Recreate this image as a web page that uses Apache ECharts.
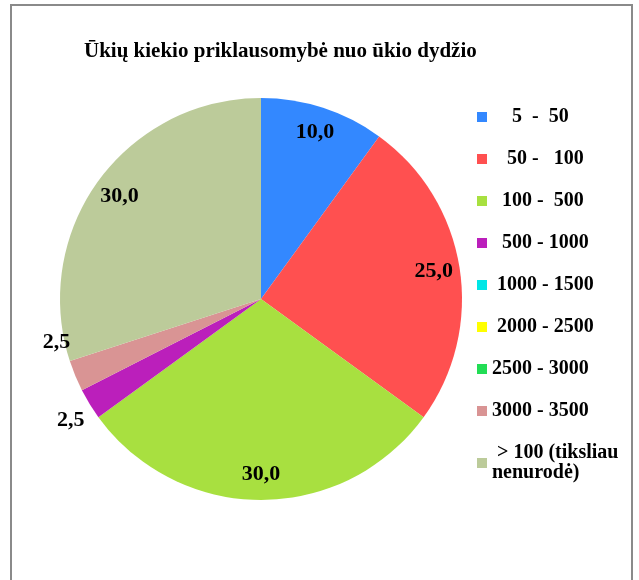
<!DOCTYPE html>
<html>
<head>
<meta charset="utf-8">
<script src="https://cdn.jsdelivr.net/npm/echarts@6/dist/echarts.min.js"></script>
<style>
  html, body { margin: 0; padding: 0; background: #fff; overflow: hidden; }
  #chart { position: absolute; left: 0; top: 0; width: 639px; height: 580px; }
  #frame { position: absolute; left: 10px; top: 4px; width: 619px; height: 620px;
           border: 2px solid #8a8a8a; pointer-events: none; }
</style>
</head>
<body>
<div id="chart"></div>
<div id="frame"></div>
<script>
const titleText = 'Ūkių kiekio priklausomybė nuo ūkio dydžio'

// size classes, as written in the legend (leading spaces keep the original alignment)
const categories = [
  '    5  -  50',
  '   50 -   100',
  '  100 -  500',
  '  500 - 1000',
  ' 1000 - 1500',
  ' 2000 - 2500',
  '2500 - 3000',
  '3000 - 3500',
  ' > 100 (tiksliau\nnenurodė)',
]
const values = [10.0, 25.0, 30.0, 2.5, 0, 0, 0, 2.5, 30.0]
const colors = ['#3388ff', '#ff5050', '#a8e040', '#bb1fbb', '#00e6e6', '#ffff00', '#22dd55', '#d99494', '#bccb9a']

const SERIF = '"Liberation Serif", "Times New Roman", serif'
const fmt = v => v.toFixed(1).replace('.', ',')

// small slices get their label outside, big ones inside near the rim
const labelNudge = { 3: [0, 16], 7: [0, -34] }

const chart = echarts.init(document.getElementById('chart'))

const center = [261, 299]
const radius = 201

const mainData = categories.map((name, i) => {
  const small = values[i] > 0 && values[i] < 5
  return {
    name,
    value: values[i],
    itemStyle: { color: colors[i] },
    label: small
      ? { show: true, position: 'outside', distance: 4, offset: labelNudge[i] || [0, 0] }
      : { show: false },
  }
})

const rimData = categories.map((name, i) => ({
  name,
  value: values[i],
  label: { show: values[i] >= 5 },
}))

const labelFont = { fontFamily: SERIF, fontWeight: 'bold', fontSize: 22, color: '#000' }

chart.setOption({
  animation: false,
  backgroundColor: '#fff',
  title: {
    text: titleText,
    left: 79,
    top: 36,
    textStyle: { fontFamily: SERIF, fontWeight: 'bold', fontSize: 21, color: '#000' },
  },
  legend: {
    data: categories,
    orient: 'vertical',
    left: 472,
    top: 102,
    itemWidth: 10,
    itemHeight: 10,
    itemGap: 22,
    icon: 'rect',
    selectedMode: false,
    textStyle: { fontFamily: SERIF, fontWeight: 'bold', fontSize: 20, color: '#000', lineHeight: 20 },
  },
  series: [
    {
      name: 'main',
      type: 'pie',
      center,
      radius,
      startAngle: 90,
      clockwise: true,
      avoidLabelOverlap: false,
      silent: true,
      data: mainData,
      label: { ...labelFont, formatter: p => fmt(p.value) },
      labelLine: { show: false, length: 0, length2: 0 },
      itemStyle: { borderWidth: 0 },
    },
    {
      // transparent ring only used to place the inside labels near the rim
      name: 'rim',
      type: 'pie',
      center,
      radius: [143, radius],
      startAngle: 90,
      clockwise: true,
      silent: true,
      avoidLabelOverlap: false,
      data: rimData,
      itemStyle: { color: 'rgba(0,0,0,0)', borderWidth: 0 },
      label: { ...labelFont, position: 'inside', formatter: p => fmt(p.value) },
      labelLine: { show: false },
    },
  ],
})
</script>
</body>
</html>
